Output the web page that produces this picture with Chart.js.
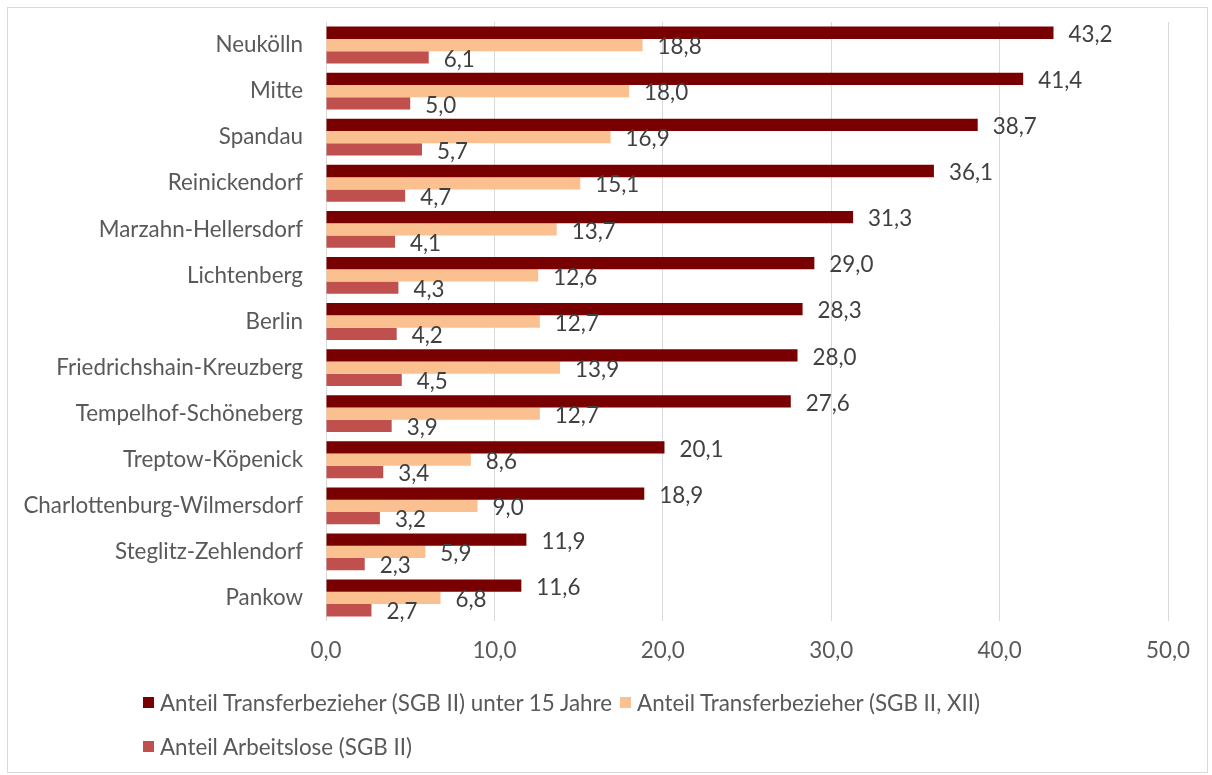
<!DOCTYPE html>
<html>
<head>
<meta charset="utf-8">
<script src="https://cdn.jsdelivr.net/npm/chart.js@4"></script>
<style>
  body { margin: 0; background: #fff; }
  #wrap { position: relative; width: 1212px; height: 775px; }
  #frame { position: absolute; left: 7px; top: 7px; width: 1201px; height: 766px; border: 1px solid #d9d9d9; box-sizing: border-box; }
  canvas { position: absolute; left: 0; top: 0; }
  #legend { position: absolute; left: 143px; top: 690px; width: 900px; display: flex; flex-wrap: wrap; row-gap: 20px;
            font-family: Lato, sans-serif; font-size: 22.4px; color: #595959; }
  .item { display: flex; align-items: center; margin-right: 8px; height: 24px; }
  .box { width: 11px; height: 11px; margin-right: 6px; }
</style>
</head>
<body>
<div id="wrap">
  <div id="frame"></div>
  <canvas id="mychart" width="1212" height="775"></canvas>
  <div id="legend"></div>
</div>
<script>
const districts = ['Neukölln', 'Mitte', 'Spandau', 'Reinickendorf', 'Marzahn-Hellersdorf', 'Lichtenberg', 'Berlin',
  'Friedrichshain-Kreuzberg', 'Tempelhof-Schöneberg', 'Treptow-Köpenick', 'Charlottenburg-Wilmersdorf',
  'Steglitz-Zehlendorf', 'Pankow'];
const under15 = [43.2, 41.4, 38.7, 36.1, 31.3, 29.0, 28.3, 28.0, 27.6, 20.1, 18.9, 11.9, 11.6];
const transfer = [18.8, 18.0, 16.9, 15.1, 13.7, 12.6, 12.7, 13.9, 12.7, 8.6, 9.0, 5.9, 6.8];
const unemployed = [6.1, 5.0, 5.7, 4.7, 4.1, 4.3, 4.2, 4.5, 3.9, 3.4, 3.2, 2.3, 2.7];
const seriesNames = ['Anteil Transferbezieher (SGB II) unter 15 Jahre', 'Anteil Transferbezieher (SGB II, XII)', 'Anteil Arbeitslose (SGB II)'];
const colors = ['#780000', '#fac090', '#c0504d'];

const fmt = v => v.toFixed(1).replace('.', ',');

Chart.defaults.font.family = 'Lato';
Chart.defaults.font.size = 22.4;
Chart.defaults.color = '#595959';

// Werte rechts neben die Balken schreiben
const valueLabels = {
  id: 'valueLabels',
  afterDatasetsDraw(chart) {
    const ctx = chart.ctx;
    ctx.save();
    ctx.font = '22.4px Lato';
    ctx.fillStyle = '#404040';
    ctx.textAlign = 'left';
    ctx.textBaseline = 'middle';
    chart.data.datasets.forEach((ds, i) => {
      chart.getDatasetMeta(i).data.forEach((bar, j) => {
        ctx.fillText(fmt(ds.data[j]), bar.x + 15, bar.y + 2);
      });
    });
    ctx.restore();
  }
};

new Chart(mychart, {
  type: 'bar',
  data: {
    labels: districts,
    datasets: [
      { label: seriesNames[0], data: under15, backgroundColor: colors[0] },
      { label: seriesNames[1], data: transfer, backgroundColor: colors[1] },
      { label: seriesNames[2], data: unemployed, backgroundColor: colors[2] },
    ],
  },
  options: {
    indexAxis: 'y',
    responsive: false,
    animation: false,
    categoryPercentage: 0.8,
    barPercentage: 1.0,
    layout: { padding: { left: 10, right: 44, top: 22, bottom: 114 } },
    plugins: { legend: { display: false }, tooltip: { enabled: false } },
    scales: {
      x: {
        min: 0, max: 50,
        ticks: { stepSize: 10, padding: 16, callback: v => fmt(v) },
        grid: { color: '#d9d9d9', drawTicks: false },
        border: { display: false },
        afterFit(s) { s.height = 40; }
      },
      y: {
        ticks: { padding: 23 },
        grid: { display: false, drawTicks: false },
        border: { display: false },
        afterFit(s) { s.width = 316; s.paddingTop = 0; s.paddingBottom = 0; }
      }
    }
  },
  plugins: [valueLabels]
});

const legend = document.getElementById('legend');
seriesNames.forEach((name, i) => {
  const item = document.createElement('div');
  item.className = 'item';
  item.innerHTML = '<div class="box" style="background:' + colors[i] + '"></div><span>' + name + '</span>';
  legend.appendChild(item);
});
</script>
</body>
</html>
